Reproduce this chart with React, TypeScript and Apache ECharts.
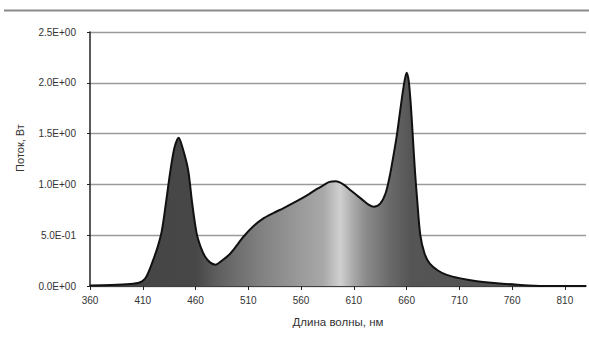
import React, { useEffect, useRef } from "react";
import * as echarts from "echarts";

const wavelengths = [360, 380, 398, 407, 412, 416, 420, 424, 428, 432, 436, 440, 444, 448, 453, 457, 461, 465, 469, 474, 479, 485, 493, 505, 515, 525, 534, 543, 555, 566, 575, 581, 587, 593, 600, 606, 612, 618, 624, 629, 635, 640, 644, 648, 651, 654, 657, 660, 662, 664, 666, 668, 670, 673, 677, 682, 690, 698, 711, 725, 743, 765, 790, 810, 830];
const flux = [0.005, 0.01, 0.02, 0.035, 0.07, 0.15, 0.26, 0.38, 0.54, 0.82, 1.12, 1.36, 1.46, 1.35, 1.14, 0.8, 0.52, 0.38, 0.29, 0.23, 0.21, 0.25, 0.32, 0.48, 0.59, 0.67, 0.72, 0.765, 0.83, 0.895, 0.955, 0.99, 1.025, 1.03, 1.0, 0.95, 0.9, 0.85, 0.8, 0.78, 0.81, 0.91, 1.08, 1.31, 1.5, 1.73, 1.95, 2.1, 2.02, 1.78, 1.45, 1.12, 0.85, 0.5, 0.32, 0.22, 0.15, 0.11, 0.075, 0.05, 0.03, 0.012, 0.0, 0.0, 0.0];

const xTicks = [360, 410, 460, 510, 560, 610, 660, 710, 760, 810];
const yTicks = [0, 0.5, 1.0, 1.5, 2.0, 2.5];
const yTickLabels = ["0.0E+00", "5.0E-01", "1.0E+00", "1.5E+00", "2.0E+00", "2.5E+00"];

const xTitle = "Длина волны, нм";
const yTitle = "Поток, Вт";

const FONT = "'Liberation Sans', Arial, sans-serif";

export default function App() {
  const ref = useRef<HTMLDivElement>(null);
  useEffect(() => {
    if (!ref.current) return;
    const chart = echarts.init(ref.current, null, { renderer: "svg" });
    const xMin = 360;
    const xMax = 830;
    const off = (nm: number) => (nm - xMin) / (xMax - xMin);
    chart.setOption({
      animation: false,
      backgroundColor: "#ffffff",
      grid: { left: 90, right: 3, top: 32, bottom: 56, containLabel: false },
      graphic: [
        {
          type: "line",
          shape: { x1: 4, y1: 10.5, x2: 589, y2: 10.5 },
          style: { stroke: "#8a8a8a", lineWidth: 2 },
        },
        {
          type: "text",
          x: 20,
          y: 148,
          rotation: Math.PI / 2,
          style: {
            text: yTitle,
            font: `11px ${FONT}`,
            fill: "#333",
            align: "center",
            verticalAlign: "middle",
          },
        },
      ],
      xAxis: {
        type: "value",
        min: xMin,
        max: xMax,
        interval: 50,
        name: xTitle,
        nameLocation: "middle",
        nameGap: 30,
        nameTextStyle: { fontFamily: FONT, fontSize: 11.5, color: "#333" },
        axisLine: { show: true, onZero: false, lineStyle: { color: "#222", width: 1.5 } },
        axisTick: { show: true, length: 4, inside: false, customValues: xTicks, lineStyle: { color: "#222" } },
        axisLabel: {
          customValues: xTicks,
          fontFamily: FONT,
          fontSize: 10,
          color: "#333",
          margin: 9,
        },
        splitLine: { show: false },
      },
      yAxis: {
        type: "value",
        min: 0,
        max: 2.5,
        interval: 0.5,
        axisLine: { show: true, lineStyle: { color: "#222", width: 1.5 } },
        axisTick: { show: true, length: 3, lineStyle: { color: "#222" } },
        axisLabel: {
          fontFamily: FONT,
          fontSize: 10,
          color: "#333",
          margin: 14,
          formatter: (v: number) => {
            const i = yTicks.findIndex((t) => Math.abs(t - v) < 1e-6);
            return i >= 0 ? yTickLabels[i] : "";
          },
        },
        splitLine: { show: true, lineStyle: { color: "#9a9a9a", width: 1.3 } },
      },
      series: [
        {
          type: "line",
          data: wavelengths.map((w, i) => [w, flux[i]]),
          smooth: 0.3,
          showSymbol: false,
          lineStyle: { color: "#111", width: 2 },
          areaStyle: {
            opacity: 1,
            color: new echarts.graphic.LinearGradient(0, 0, 1, 0, [
              { offset: 0, color: "#454545" },
              { offset: off(460), color: "#474747" },
              { offset: off(480), color: "#5e5e5e" },
              { offset: off(518), color: "#7e7e7e" },
              { offset: off(556), color: "#989898" },
              { offset: off(581), color: "#a8a8a8" },
              { offset: off(597), color: "#d0d0d0" },
              { offset: off(610), color: "#a8a8a8" },
              { offset: off(622), color: "#8a8a8a" },
              { offset: off(645), color: "#686868" },
              { offset: off(664), color: "#555555" },
              { offset: 1, color: "#505050" },
            ]),
          },
        },
      ],
    });
    return () => chart.dispose();
  }, []);
  return (
    <div
      ref={ref}
      style={{ position: "absolute", left: 0, top: 0, width: 589, height: 342 }}
    />
  );
}
